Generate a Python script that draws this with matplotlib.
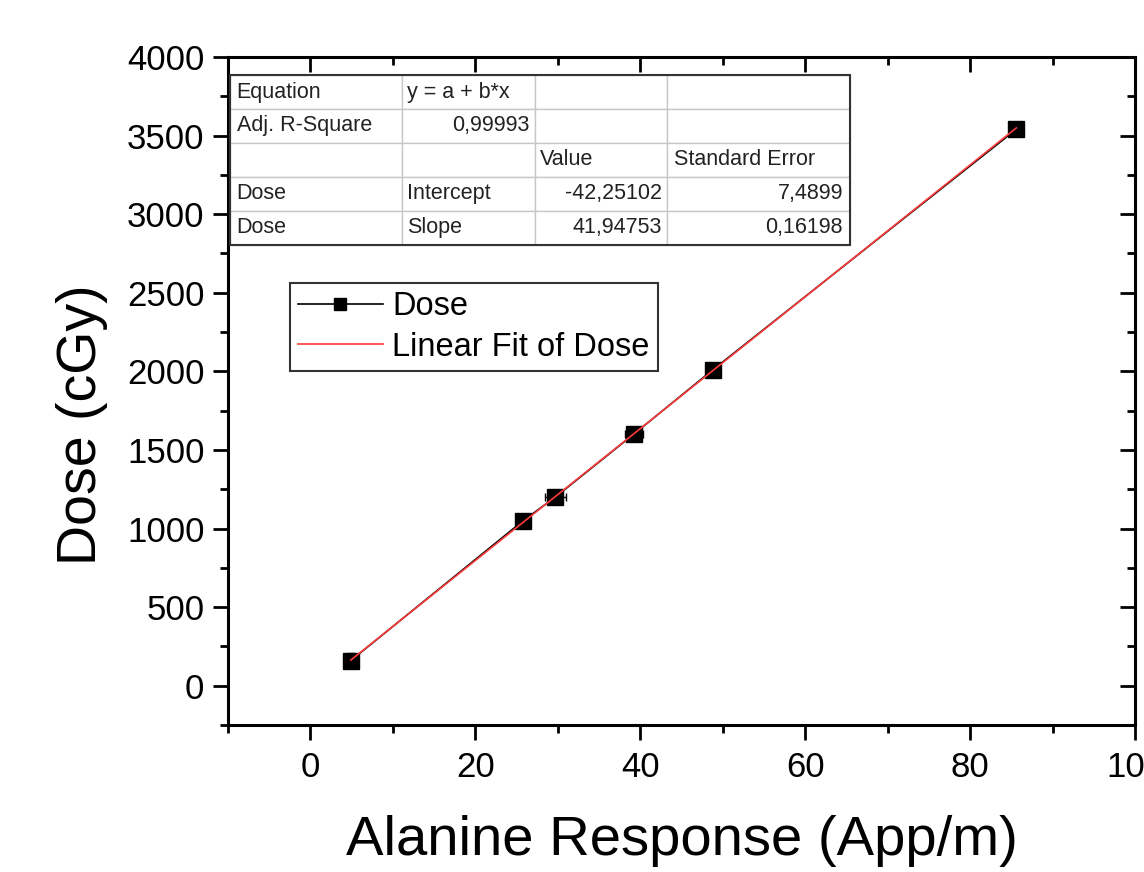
import matplotlib
matplotlib.use("Agg")
import matplotlib.pyplot as plt
import numpy as np
from matplotlib.ticker import MultipleLocator
from matplotlib.patches import Rectangle

plt.rcParams['font.family'] = ['Liberation Sans', 'DejaVu Sans']

# ---- data ----
response = [4.9, 25.8, 29.7, 39.2, 48.8, 85.6]       # App/m
dose = [160, 1050, 1200, 1600, 2010, 3540]           # cGy
response_err = [0.3, 0.4, 1.3, 1.1, 0.5, 0.4]
dose_err = [45, 35, 25, 30, 35, 45]

intercept = -42.25102
slope = 41.94753

table_rows = [
    ["Equation", "y = a + b*x", "", ""],
    ["Adj. R-Square", "0,99993", "", ""],
    ["", "", "Value", "Standard Error"],
    ["Dose", "Intercept", "-42,25102", "7,4899"],
    ["Dose", "Slope", "41,94753", "0,16198"],
]
right_aligned = {(1, 1), (3, 2), (3, 3), (4, 2), (4, 3)}

xticks = [0, 20, 40, 60, 80, 100]
yticks = [0, 500, 1000, 1500, 2000, 2500, 3000, 3500, 4000]

fig = plt.figure(figsize=(11.44, 8.72), dpi=100)
ax = fig.add_axes([228/1144, 1-725/872, (1135-228)/1144, (725-57)/872])

# data + error bars
ax.errorbar(response, dose, xerr=response_err, yerr=dose_err, fmt='none',
            ecolor='black', elinewidth=1.0, capsize=3, capthick=1.0, zorder=3)
ax.plot(response, dose, color='black', lw=1.2, marker='s', markersize=11,
        markerfacecolor='black', markeredgecolor='black', label='Dose', zorder=4)

# linear fit line
xf = np.array([min(response), max(response)])
ax.plot(xf, intercept + slope * xf, color='#ff3b3b', lw=1.2,
        label='Linear Fit of Dose', zorder=5)

ax.set_xlim(-10, 100)
ax.set_ylim(-250, 4000)
ax.set_xticks(xticks)
ax.set_yticks(yticks)
ax.xaxis.set_minor_locator(MultipleLocator(10))
ax.yaxis.set_minor_locator(MultipleLocator(250))

for sp in ax.spines.values():
    sp.set_linewidth(2.2)

ax.tick_params(axis='both', which='major', direction='out', length=11, width=2.0,
               labelsize=25, top=True, right=True)
ax.tick_params(axis='y', which='major', pad=6)
ax.tick_params(axis='x', which='major', pad=8)
ax.tick_params(axis='both', which='minor', direction='out', length=6, width=2.0,
               top=True, right=True)
# top/right ticks point inward
for t in ax.xaxis.get_major_ticks() + ax.xaxis.get_minor_ticks():
    t.tick2line.set_marker(3)  # TICKDOWN
for t in ax.yaxis.get_major_ticks() + ax.yaxis.get_minor_ticks():
    t.tick2line.set_marker(0)  # TICKLEFT

ax.set_xlabel('Alanine Response (App/m)', fontsize=40.5, va='baseline')
ax.xaxis.set_label_coords(0.5, -0.1946)
ax.set_ylabel('Dose (cGy)', fontsize=40)
ax.yaxis.set_label_coords(-0.132, 0.449)

# legend
leg = ax.legend(loc='upper left', bbox_to_anchor=(0.068, 0.662), borderaxespad=0,
                fontsize=23.5, frameon=True, fancybox=False, handlelength=2.6,
                handletextpad=0.3, borderpad=0.25, labelspacing=0.3,
                markerscale=0.75)
leg.get_frame().set_edgecolor('black')
leg.get_frame().set_linewidth(1.5)

# fit table
col_w = np.array([172, 133, 132, 183], dtype=float)
col_w = col_w / col_w.sum()
tbl = ax.table(cellText=table_rows, colWidths=list(col_w),
               bbox=[0.002, 0.719, 0.684, 0.254], cellLoc='left', zorder=6)
tbl.auto_set_font_size(False)
for (r, c), cell in tbl.get_celld().items():
    cell.set_edgecolor('#c8c8c8')
    cell.set_linewidth(1.0)
    cell.set_facecolor('white')
    txt = cell.get_text()
    txt.set_fontsize(15.5)
    txt.set_color('#222222')
    if (r, c) in right_aligned:
        cell._loc = 'right'
        txt.set_horizontalalignment('right')
    cell.PAD = 0.04
ax.add_patch(Rectangle((0.002, 0.719), 0.684, 0.254, transform=ax.transAxes,
                       fill=False, edgecolor='#333333', lw=1.5, zorder=7))

fig.savefig('out.png', dpi=100)
